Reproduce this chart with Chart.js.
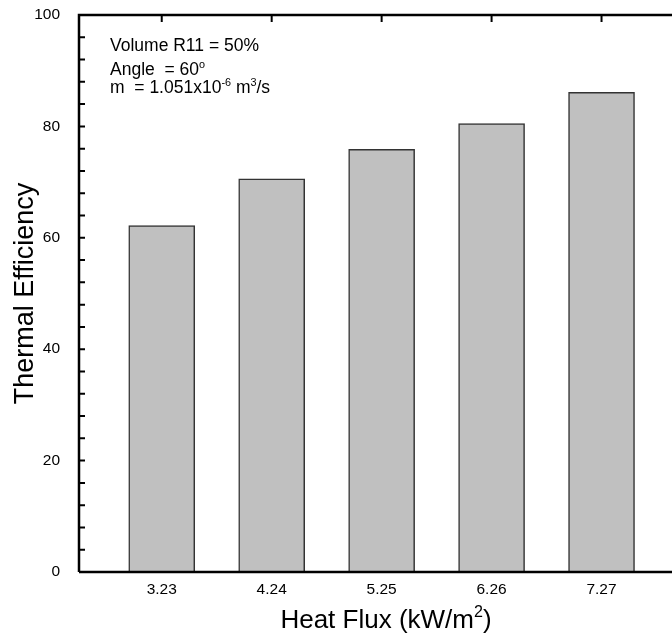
<!DOCTYPE html>
<html>
<head>
<meta charset="utf-8">
<script src="https://cdn.jsdelivr.net/npm/chart.js@4.4.1/dist/chart.umd.min.js"></script>
<style>
  html, body { margin: 0; padding: 0; background: #fff; overflow: hidden; }
  #wrap { width: 700px; height: 634px; }
</style>
</head>
<body>
<div id="wrap"><canvas id="chart" width="700" height="634"></canvas></div>
<script>
// data
const heatFlux = [3.23, 4.24, 5.25, 6.26, 7.27];
const efficiency = [62.2, 70.6, 75.9, 80.5, 86.1];
const yMajorTicks = [0, 20, 40, 60, 80, 100];

const FONT = '"Liberation Sans", Arial, Helvetica, sans-serif';

// draws a row of text pieces, some of them raised as superscripts
function drawRuns(ctx, runs, x, y, size, align) {
    let total = 0;
    runs.forEach(r => {
        ctx.font = (r.sup ? size * 0.62 : size) + 'px ' + FONT;
        r.w = ctx.measureText(r.t).width;
        total += r.w;
    });
    let cx = align === 'center' ? x - total / 2 : x;
    ctx.textAlign = 'left';
    ctx.textBaseline = 'alphabetic';
    runs.forEach(r => {
        ctx.font = (r.sup ? size * 0.62 : size) + 'px ' + FONT;
        ctx.fillText(r.t, cx, r.sup ? y - size * 0.42 : y);
        cx += r.w;
    });
}

const framePlugin = {
    id: 'frame',
    beforeDatasetsDraw(chart) {
        const ctx = chart.ctx;
        const a = chart.chartArea;
        const xs = chart.scales.x, ys = chart.scales.y;
        ctx.save();
        ctx.strokeStyle = '#000';
        ctx.lineWidth = 2;
        ctx.beginPath();
        // minor + major ticks on left axis, every 4 units
        for (let v = 0; v <= 100; v += 4) {
            const py = ys.getPixelForValue(v);
            ctx.moveTo(a.left, py);
            ctx.lineTo(a.left + 6, py);
        }
        yMajorTicks.forEach(v => {
            const py = ys.getPixelForValue(v);
            ctx.moveTo(a.left, py);
            ctx.lineTo(a.left + 6, py);
        });
        heatFlux.forEach(v => {
            const px = xs.getPixelForValue(v);
            ctx.moveTo(px, a.top);
            ctx.lineTo(px, a.top + 7);
            ctx.moveTo(px, a.bottom);
            ctx.lineTo(px, a.bottom - 6);
        });
        ctx.stroke();
        ctx.restore();
    },
    afterDraw(chart) {
        const ctx = chart.ctx;
        const a = chart.chartArea;
        ctx.save();
        ctx.strokeStyle = '#000';
        ctx.lineWidth = 2.5;
        ctx.beginPath();
        ctx.moveTo(a.left, a.bottom);
        ctx.lineTo(a.left, a.top);
        ctx.lineTo(a.right, a.top);
        ctx.lineTo(a.right, a.bottom);
        ctx.lineTo(a.left, a.bottom);
        ctx.stroke();

        ctx.fillStyle = '#000';
        // annotation block
        drawRuns(ctx, [{t: 'Volume R11 = 50%'}], 110, 51, 17.5, 'left');
        drawRuns(ctx, [{t: 'Angle  = 60'}, {t: 'o', sup: true}], 110, 75, 17.5, 'left');
        drawRuns(ctx, [{t: 'm  = 1.051x10'}, {t: '-6', sup: true}, {t: ' m'}, {t: '3', sup: true}, {t: '/s'}], 110, 93, 17.5, 'left');

        // axis titles
        drawRuns(ctx, [{t: 'Heat Flux (kW/m'}, {t: '2', sup: true}, {t: ')'}], 386, 628, 26, 'center');
        ctx.translate(33, (a.top + a.bottom) / 2);
        ctx.rotate(-Math.PI / 2);
        drawRuns(ctx, [{t: 'Thermal Efficiency'}], 0, 0, 27, 'center');
        ctx.restore();
    }
};

const noPad = s => { s.paddingTop = 0; s.paddingBottom = 0; s.paddingLeft = 0; s.paddingRight = 0; };

new Chart(document.getElementById('chart'), {
    type: 'bar',
    data: {
        datasets: [{
            data: heatFlux.map((x, i) => ({ x: x, y: efficiency[i] })),
            backgroundColor: '#c0c0c0',
            borderColor: '#333333',
            borderWidth: 1.5,
            barThickness: 66
        }]
    },
    options: {
        responsive: false,
        animation: false,
        events: [],
        layout: { padding: { left: 0, top: 15, right: 19, bottom: 0 } },
        plugins: { legend: { display: false }, tooltip: { enabled: false } },
        scales: {
            x: {
                type: 'linear',
                offset: false,
                min: 2.47,
                max: 8.0,
                grid: { display: false, offset: false },
                border: { display: false },
                afterBuildTicks: s => { s.ticks = heatFlux.map(v => ({ value: v })); },
                afterFit: s => { s.height = 62; noPad(s); },
                ticks: {
                    padding: 0,
                    color: '#000',
                    font: { family: FONT, size: 15.5 },
                    callback: v => v.toFixed(2)
                }
            },
            y: {
                min: 0,
                max: 100,
                grid: { display: false },
                border: { display: false },
                afterBuildTicks: s => { s.ticks = yMajorTicks.map(v => ({ value: v })); },
                afterFit: s => { s.width = 79; noPad(s); },
                ticks: {
                    padding: 11,
                    color: '#000',
                    font: { family: FONT, size: 15.5 }
                }
            }
        }
    },
    plugins: [framePlugin]
});
</script>
</body>
</html>
